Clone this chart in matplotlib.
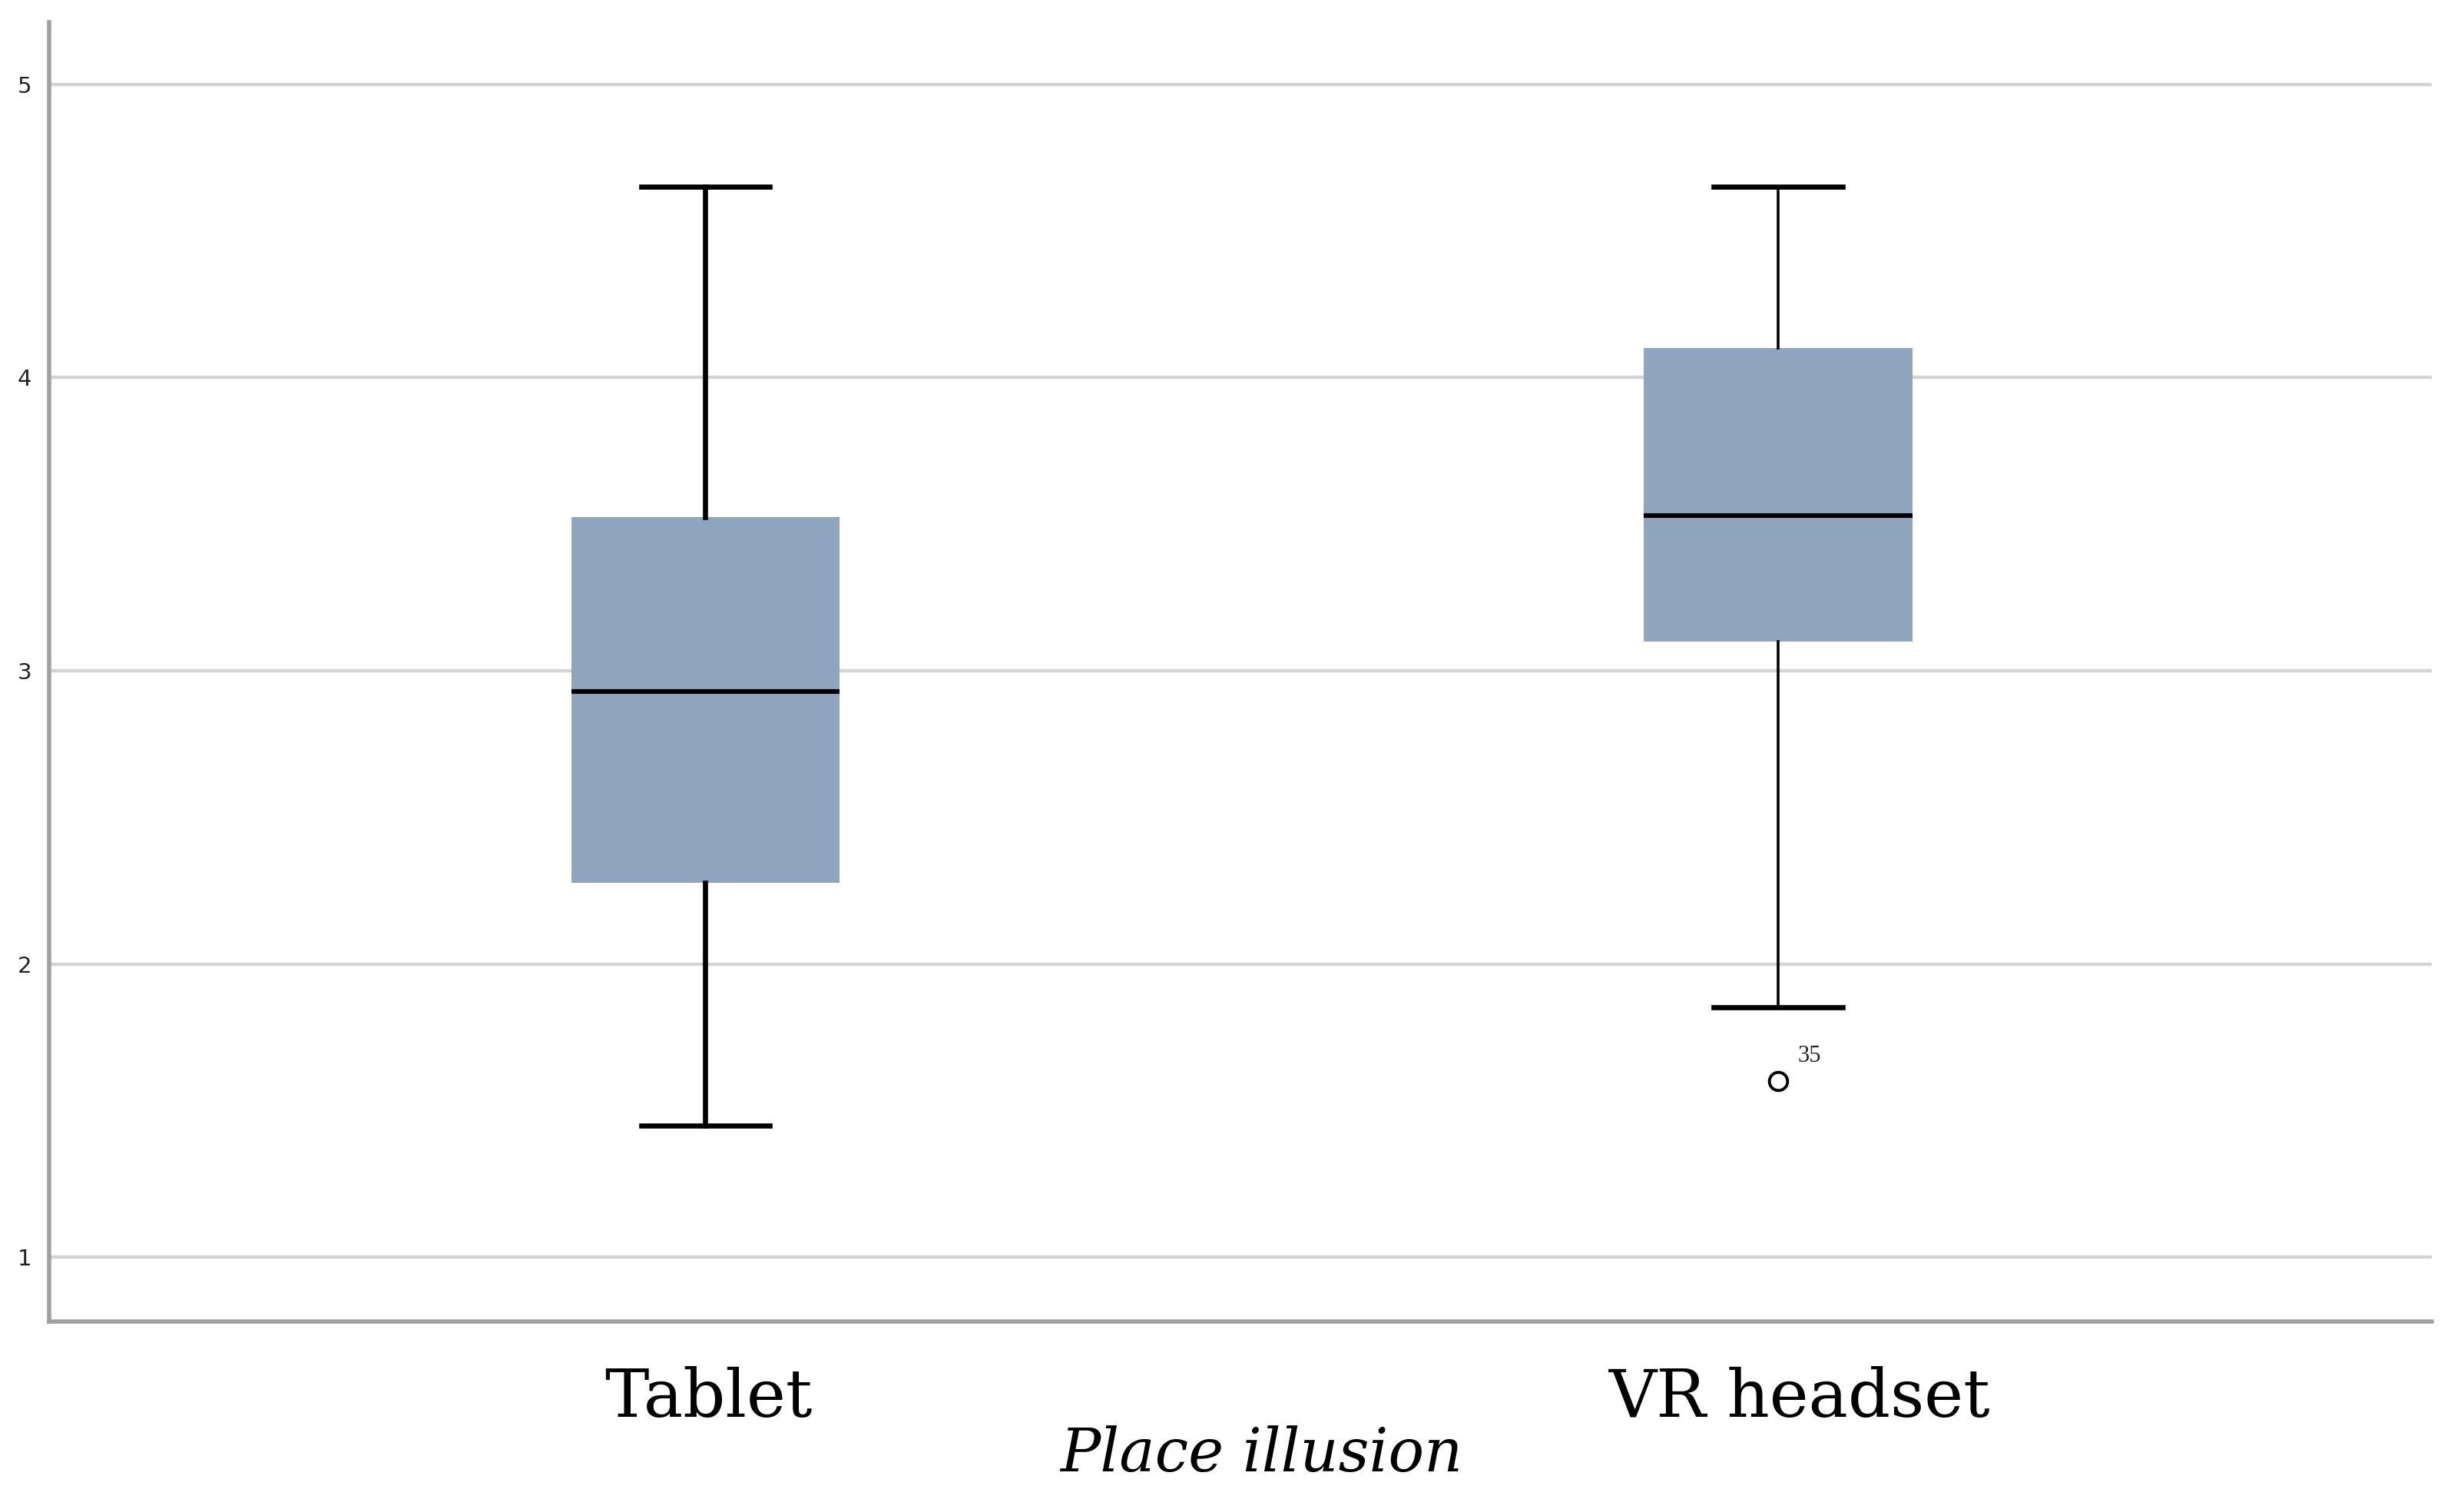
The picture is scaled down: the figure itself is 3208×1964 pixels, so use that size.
import matplotlib
matplotlib.use("Agg")
import matplotlib.pyplot as plt
import matplotlib.transforms as mtransforms

categories = ["Tablet", "VR headset"]
whislo = [1.45, 1.853]
q1 = [2.276, 3.10]
med = [2.93, 3.53]
q3 = [3.525, 4.10]
whishi = [4.65, 4.65]
outliers = [[], [1.60]]
outlier_labels = [[], ["35"]]
yticks = [1, 2, 3, 4, 5]
whisker_lw = [2.4, 1.3]

fig = plt.figure(figsize=(16.04, 9.82), dpi=200)
ax = fig.add_axes([0.0198, 0.124, 0.967, 0.861])

box_color = "#8FA5BD"
positions = [1, 2]
for i in range(2):
    stats = [{"whislo": whislo[i], "q1": q1[i], "med": med[i], "q3": q3[i],
              "whishi": whishi[i], "fliers": outliers[i], "label": categories[i]}]
    ax.bxp(stats, positions=[positions[i]], widths=0.25, patch_artist=True,
           boxprops=dict(facecolor=box_color, edgecolor=box_color, linewidth=0),
           medianprops=dict(color="black", linewidth=2.2),
           whiskerprops=dict(color="black", linewidth=whisker_lw[i]),
           capprops=dict(color="black", linewidth=2.4),
           capwidths=0.12,
           flierprops=dict(marker="o", markerfacecolor="white", markeredgecolor="black",
                           markersize=8.5, markeredgewidth=1.4),
           zorder=3)
    for y, lab in zip(outliers[i], outlier_labels[i]):
        ax.annotate(lab, (positions[i], y), xytext=(9, 9), textcoords="offset points",
                    fontsize=11, family="Liberation Serif", color="#222222")

ax.set_xlim(0.388, 2.609)
ax.set_ylim(0.78, 5.21)
ax.set_yticks(yticks)
ax.set_yticklabels([str(t) for t in yticks], fontsize=10.5, color="#222222", family="DejaVu Sans")
ax.set_xticks(positions)
ax.set_xticklabels(categories, fontsize=31, family="DejaVu Serif")
ax.tick_params(axis="both", length=0)
ax.tick_params(axis="x", pad=21)
ax.tick_params(axis="y", pad=8)

# small horizontal nudges of category labels as in the reference
offsets = [0.02, 0.14]
for lab, dx in zip(ax.get_xticklabels(), offsets):
    lab.set_transform(lab.get_transform() + mtransforms.ScaledTranslation(dx, 0, fig.dpi_scale_trans))

ax.yaxis.grid(True, color="#d4d4d4", linewidth=1.6, zorder=0)
ax.set_axisbelow(True)
for s in ["top", "right"]:
    ax.spines[s].set_visible(False)
for s in ["left", "bottom"]:
    ax.spines[s].set_color("#a0a0a0")
    ax.spines[s].set_linewidth(2.0)

fig.text(0.512, 0.036, "Place illusion", ha="center", va="center", fontsize=28,
         style="italic", family="DejaVu Serif")

fig.savefig("out.png", dpi=200, facecolor="white")
